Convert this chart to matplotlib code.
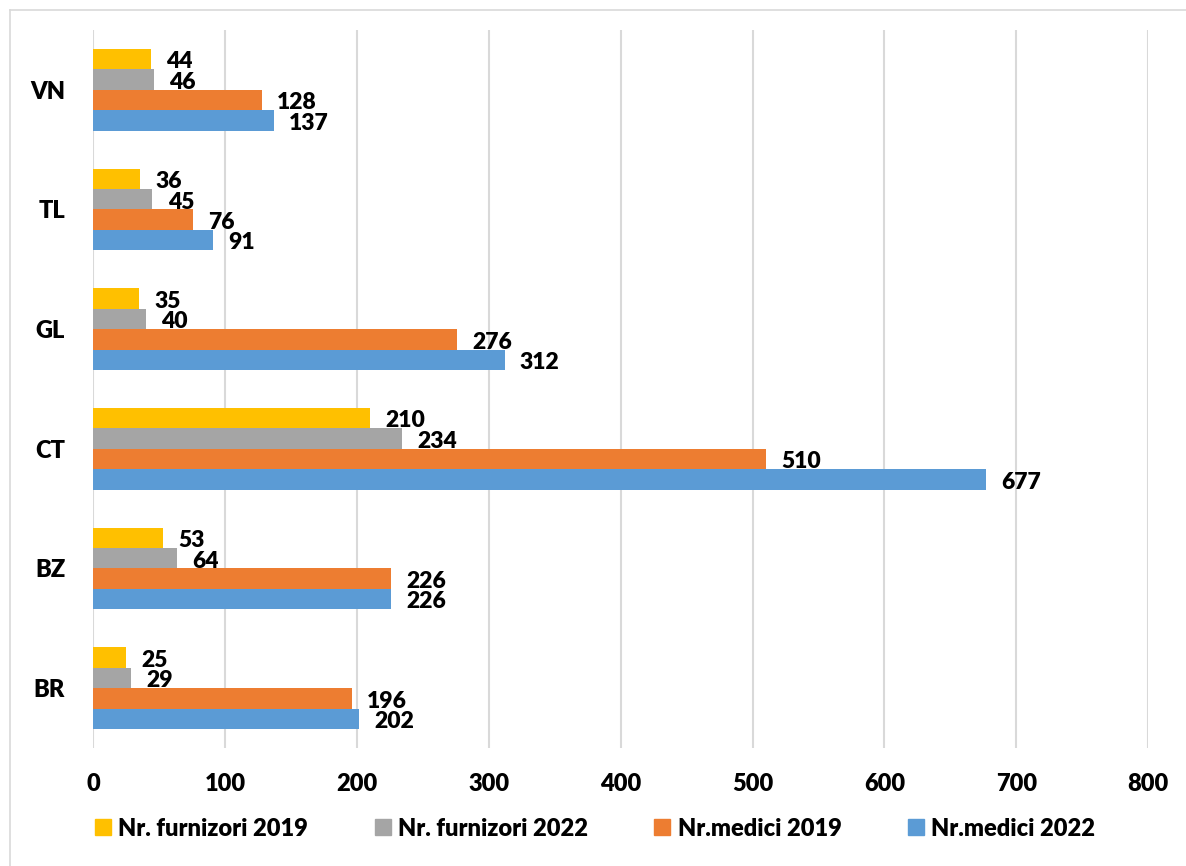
import matplotlib.pyplot as plt
from matplotlib.lines import Line2D
import numpy as np

plt.rcParams['font.family'] = ['Lato', 'DejaVu Sans']
plt.rcParams['font.weight'] = 'heavy'

# Judete (de jos in sus)
judete = ['BR', 'BZ', 'CT', 'GL', 'TL', 'VN']

furnizori_2019 = [25, 53, 210, 35, 36, 44]
furnizori_2022 = [29, 64, 234, 40, 45, 46]
medici_2019 = [196, 226, 510, 276, 76, 128]
medici_2022 = [202, 226, 677, 312, 91, 137]

serii = [
    ('Nr. furnizori 2019', furnizori_2019, '#FFC000'),
    ('Nr. furnizori 2022', furnizori_2022, '#A5A5A5'),
    ('Nr.medici 2019', medici_2019, '#ED7D31'),
    ('Nr.medici 2022', medici_2022, '#5B9BD5'),
]

fig = plt.figure(figsize=(11.86, 8.66), dpi=100)
ax = fig.add_axes([0.0784, 0.1363, 0.8898, 0.8291])

h = 0.171
y = np.arange(len(judete))
for i, (nume, valori, culoare) in enumerate(serii):
    pos = y + (1.5 - i) * h
    ax.barh(pos, valori, height=h, color=culoare, label=nume, zorder=3)
    for p, v in zip(pos, valori):
        ax.annotate(str(v), (v, p), xytext=(11, -2), textcoords='offset points',
                    ha='left', va='center', fontsize=16.5, fontweight='heavy')

ax.set_xlim(0, 800)
ax.set_ylim(-0.5, len(judete) - 0.5)
ax.set_xticks(range(0, 801, 100))
ax.set_yticks(y)
ax.set_yticklabels(judete)
ax.tick_params(axis='both', length=0, labelsize=17)
ax.tick_params(axis='x', pad=18)
ax.tick_params(axis='y', pad=20)
ax.grid(axis='x', color='#D9D9D9', linewidth=1.5, zorder=0)
for s in ['top', 'right', 'bottom', 'left']:
    ax.spines[s].set_visible(False)

# legenda jos
handles = [Line2D([], [], marker='s', linestyle='none', markersize=11,
                  markerfacecolor=c, markeredgecolor=c) for _, _, c in serii]
fig.legend(handles, [n for n, _, _ in serii], loc='center left',
           bbox_to_anchor=(0.080, 0.043), ncol=4, frameon=False,
           prop={'size': 17, 'weight': 'heavy'}, handlelength=0.7,
           handletextpad=0.3, columnspacing=2.8, borderpad=0, borderaxespad=0)

# chenar
fig.add_artist(Line2D([10 / 1186, 1], [1 - 10 / 866] * 2, color='#D9D9D9', linewidth=1.2))
fig.add_artist(Line2D([10 / 1186] * 2, [0, 1 - 10 / 866], color='#D9D9D9', linewidth=1.2))

fig.savefig('out.png', dpi=100)
